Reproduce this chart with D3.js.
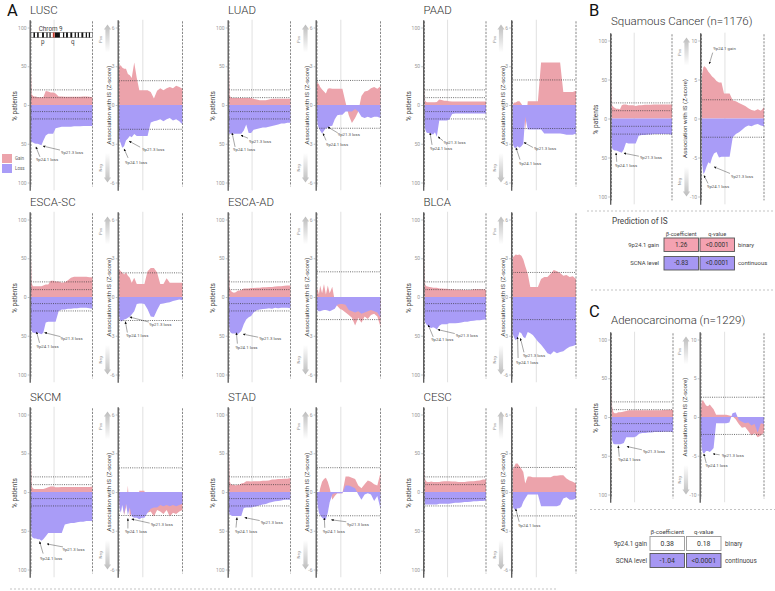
<!DOCTYPE html>
<html><head><meta charset="utf-8">
<script src="https://cdn.jsdelivr.net/npm/d3@7/dist/d3.min.js"></script>
<style>
body{margin:0;background:#fff}
svg{display:block}
text{font-family:Roboto,"Liberation Sans",Arial,sans-serif}
</style></head><body>
<svg id="chart" width="775" height="591"></svg>
<script>
// ================= DATA =================
// positions along chromosome 9 (0 = pter, 100 = qter), centromere ~37.5
const pos = [0,1,3,5,8,11,14,17,20,24,28,32,36,40,45,50,55,60,65,70,75,80,85,90,95,100];
const centromere = 37.5;
const pctTicks = [100,50,0,-50,-100];
const zTicksA = [6,3,0,-3,-6];
const zTicksBC = [10,5,0,-5,-10];

// LUSC
const luscGainPct = [46,14,12,11,11,10,10,10,10,18,17.5,16,16,15,11,11,10.5,10.5,10.5,10.5,10.5,10.5,11,11,10.5,10];
const luscLossPct = [46,48,48,49.5,50,50,51,52,46,39.5,37,37,37,30,29,28,28,28,28,27.5,27.5,27.5,27,27,27,27];
const luscGainZ = [3.05,3.05,3.05,2.9,2.8,2.8,2.4,2.3,2.1,3.3,2.1,1.15,1.15,1.15,1.15,1.0,0.5,1.1,1.3,1.15,1.3,1.4,1.3,1.5,1.4,1.25];
const luscLossZ = [-2.6,-2.75,-3.0,-3.3,-3.2,-2.75,-2.6,-2.4,-2.5,-2.25,-2.4,-2.4,-2.4,-2.4,-2.4,-1.35,-1.25,-1.2,-1.1,-1.25,-1.1,-1.0,-1.2,-1.1,-1.25,-1.5];
// LUAD
const luadGainPct = [48,12,10,9,9,9,9,9,9,9,9,9,9,8,7,6,6,6,7,8,8,8,8,8,8,8];
const luadLossPct = [36,37,37,37,37,37,37,37,37,33,25,36,36,32,31,30,29,29,28,27,26,25,24,24,23,23];
const luadGainZ = [1.8,1.7,1.6,1.4,1.2,1.05,0.9,1.25,1.3,1.25,1.25,1.25,1.25,1.25,0.2,-0.8,-1.4,-1.0,-0.5,0.7,1.05,1.1,1.3,1.4,1.25,1.45];
const luadLossZ = [-1.0,-1.5,-1.8,-2.0,-2.2,-2.0,-1.8,-1.75,-1.65,-1.6,-1.1,-0.8,-0.75,-0.75,-0.5,-0.5,-0.5,-0.3,-0.5,-0.9,-1.0,-0.9,-1.0,-0.9,-0.9,-1.0];
// PAAD
const paadGainPct = [23,5.5,4,3.5,3.5,3.5,3.5,3.7,4,7,6.5,5.5,5.5,5,4.5,4.5,4.5,4.5,4.5,4.5,4.5,4.5,4.5,4.5,4.5,4.5];
const paadLossPct = [22,31,35,36,36,37,38,35,41,20,20,20,20,19,11.5,11,11,11,11,11,11,11,11,11,11,11];
const paadGainZ = [-0.8,0.1,0.2,0.2,0.3,0.3,0.1,-0.2,-2.0,0.3,0.3,0.3,0.3,0.3,3.3,3.3,3.3,3.3,3.3,3.3,3.3,1.0,1.0,1.0,1.0,1.1];
const paadLossZ = [-2.5,-3.1,-3.3,-3.3,-3.2,-3.3,-3.2,-3.0,-0.9,-1.9,-1.9,-1.9,-1.9,-1.9,-1.9,-2.2,-2.2,-2.2,-2.2,-2.2,-2.2,-2.25,-2.3,-2.3,-2.3,-2.2];
// ESCA-SC
const escaScGainPct = [51,18,14,14,14,14,14,14,15,16,16,21,21,20,20,18.5,19,21.5,25,26,26,26,26,26,25.5,25.5];
const escaScLossPct = [40,44,46,46,47,46,47,48,46,33,32,32,32,32,18,16,16,15,15,14.5,14.5,14,14,14,14.5,15];
const escaScGainZ = [2.15,2.1,2.0,1.9,1.75,1.9,1.65,1.5,1.1,1.5,1.0,1.0,1.0,1.0,2.0,2.25,2.25,1.9,1.0,1.0,1.45,1.1,1.1,1.1,1.1,1.1];
const escaScLossZ = [-1.35,-1.75,-1.9,-1.85,-1.75,-1.7,-1.6,-1.5,-1.35,-1.1,-0.55,-0.5,-0.5,-0.55,-0.95,-1.5,-1.55,-1.0,-0.55,-0.5,-0.45,-0.4,-0.3,-0.25,-0.2,-0.25];
// ESCA-AD
const escaAdGainPct = [38,12,8,6.5,5.5,6,8,8.5,9,11,11,11,11.5,11.5,12,12,12.5,12.5,13,13,13.5,14,14,14.5,15,15];
const escaAdLossPct = [35,44,46,47,47,47,48,46,44,35,29,26,24.5,20,17,16,15.5,15,14.6,15,14,14.6,14,14,14,14.6];
const escaAdGainZ = [0.6,0.6,0.2,0.9,0.3,1.0,0.2,0.9,0.3,0.8,-0.3,-0.7,-0.9,-1.0,-1.2,-1.4,-1.6,-2.2,-1.6,-2.0,-1.5,-1.7,-1.4,-1.3,-1.5,-2.3];
const escaAdLossZ = [-1.0,-1.05,-1.1,-1.1,-1.05,-1.0,-1.0,-1.05,-1.1,-1.0,-0.9,-0.6,-0.55,-0.55,-0.6,-1.0,-1.1,-1.2,-1.1,-1.3,-1.2,-1.1,-1.0,-1.1,-1.2,-1.6];
// BLCA
const blcaGainPct = [51,16,14,13.5,13,12.5,12,12,12,11,11,10.5,10.5,10,10,9.5,9.5,9.5,9,9,9,10,10,10,10,9.5];
const blcaLossPct = [29,33,35,37,39,40,39,40,42,37,35,35,35,34,34,34,33.5,33,32,32,31,30.5,30,30,29.5,29];
const blcaGainZ = [3.1,3.1,3.2,3.3,3.25,3.3,3.2,2.9,2.4,1.8,0.77,0.77,0.77,0.77,1.4,1.55,1.55,1.8,2.1,2.0,1.85,1.65,1.7,1.55,1.6,1.4];
const blcaLossZ = [-2.7,-2.95,-3.2,-3.35,-3.2,-2.7,-2.8,-3.1,-3.2,-2.7,-2.8,-2.95,-3.2,-3.45,-3.7,-4.0,-4.35,-4.45,-4.2,-4.35,-4.25,-4.2,-4.0,-3.85,-3.8,-3.7];
// SKCM
const skcmGainPct = [39,7,5,4,4,4,4,4,4,5,6,7,7,6,6,6.5,6.5,6.5,6.5,6.5,6.5,6.5,6.5,6.5,6.5,7];
const skcmLossPct = [42,57,59,60,60,61,61,63,61,57,53,53,53,53,53,53,42,41,40,40,39,38.5,38.5,37.5,37.5,37.5];
const skcmGainZ = [0.2,-1.0,-1.5,-0.5,-1.8,-1.2,0.5,-2.0,-1.5,-1.8,-1.6,0.1,0.1,0.1,-1.6,-1.5,-1.9,-1.4,-1.5,-1.7,-1.4,-1.9,-1.6,-1.7,-1.5,-1.4];
const skcmLossZ = [-0.2,-1.3,-1.6,-1.0,-1.7,-0.9,-1.8,-1.2,-1.9,-2.0,-2.0,-2.1,-2.0,-2.0,-1.6,-1.3,-1.2,-1.2,-1.0,-1.1,-1.0,-1.1,-1.0,-1.1,-1.0,-0.9];
// STAD
const stadGainPct = [52,14,10,9.5,9.5,8.5,9.5,9.5,11,11.5,14,14,13.5,14,14,14,14.5,14.5,15,16,16,16.7,16.7,17,17,18];
const stadLossPct = [25,29,30,31,31,31,31,31,31,20.5,20,20,20,19,18.5,17,16,15.5,14,13,12,11.5,11,10,10,10];
const stadGainZ = [-0.7,-0.3,-0.2,0.3,0.8,1.0,1.1,0.8,0.3,-0.6,-0.3,-0.1,-0.1,-0.1,1.2,1.2,1.1,1.0,0.5,0.3,0.6,0.9,0.8,0.6,0.5,1.5];
const stadLossZ = [-0.5,-1.0,-1.6,-1.8,-2.0,-2.1,-2.1,-1.6,-0.8,-0.2,-0.1,-0.1,-0.1,-0.1,0.5,0.5,0.4,0.3,-0.2,-0.6,-0.2,-0.1,-0.2,-0.7,-0.3,-1.3];
// CESC
const cescGainPct = [33,16,13.5,13,13,13.5,13,13,13,13,13.5,14,14,14,13.5,13.5,13,13,13,13.5,14,14,14.5,15,16,16];
const cescLossPct = [12,16,16,16,16,16,16,16,16,15,15,15,15,15,14.5,14,14,13.5,13,13,12.5,12,12,11.5,11.5,11];
const cescGainZ = [1.7,1.8,2.0,2.2,2.2,2.0,1.8,1.55,0.65,1.2,1.2,1.15,1.15,1.15,1.15,1.15,1.15,1.15,1.25,1.25,1.3,1.3,1.05,0.9,0.8,0.65];
const cescLossZ = [-0.9,-1.2,-1.35,-1.35,-1.25,-1.25,-1.15,-0.75,-0.5,-0.2,-0.2,-0.2,-0.2,-0.2,-1.1,-1.1,-1.1,-1.1,-1.1,-1.1,-1.0,-0.5,-0.4,-0.6,-0.6,-0.5];
// Squamous (B)
const sqGainPct = [50,17,15,13.7,12.5,12.5,12,17,18,18,17,17,17,16,17,17,17.5,17.5,17.5,18,18,18,18,18,18,18];
const sqLossPct = [27,38,40,41,41,42,43,44,40,31,32,32,32,32,22,21,21,20.5,20.5,20,20,20,20,20,20,21];
const sqGainZ = [3.6,5.7,6.6,6.7,6.4,6.0,5.7,5.4,5.2,4.8,4.6,4.6,3.2,3.2,3.2,2.3,2.2,2.0,1.8,1.6,1.3,1.1,1.0,1.2,1.0,1.45];
const sqLossZ = [-1.5,-5.8,-7.1,-6.9,-6.2,-5.6,-5.8,-5.0,-4.5,-4.3,-5.0,-4.9,-4.9,-4.9,-4.9,-2.4,-2.0,-1.75,-1.45,-1.1,-0.9,-1.0,-0.8,-0.7,-0.9,-1.0];
// Adenocarcinoma (C)
const adGainPct = [43,13,6.5,5,5,6,6,6.5,7,7.8,8.6,8.6,8.6,8.6,8.6,8.6,8.6,8.6,8.6,8.6,8.6,8.6,9,9,9.5,9.5];
const adLossPct = [17,30,34.5,35,35,35,35,34.5,33.6,26,26,26,26,25,21.5,20.7,20.7,20,20,19.4,19.4,19.4,19,19,19,19.4];
const adGainZ = [1.0,2.0,2.2,1.9,1.5,1.4,1.6,1.3,1.0,0.3,0.3,0.3,0.3,0.3,0.2,0.1,-0.3,-0.9,-1.4,-1.3,-1.8,-2.4,-2.1,-2.6,-2.4,-2.0];
const adLossZ = [-2.0,-4.0,-4.6,-4.7,-4.4,-4.4,-4.5,-4.3,-4.0,-0.8,-0.8,-0.8,-0.8,-0.8,-0.7,0.5,0.6,-0.4,-0.6,-0.8,-0.7,-1.1,-0.9,-2.0,-0.8,-0.9];

// chromosome 9 ideogram dark bands (positions)
const chr9Dark = [[4,6.5],[10,12.5],[18,21],[25,27],[30,32],[39,47],[52,54],[57,60],[64,67],[71,73],[76,78],[82,85],[89,91],[94,96]];
const chr9Cen = [35.5,38.5];

// prediction tables
const predRows = ["9p24.1 gain","SCNA level"];
const predTypes = ["binary","continuous"];
const sqBeta = ["1.26","-0.83"], sqQ = ["<0.0001","<0.0001"];
const adBeta = ["0.38","-1.04"], adQ = ["0.18","<0.0001"];

// ================= STYLE / LAYOUT =================
const GAIN = "#eca3ab", LOSS = "#a99cf7";
const BOX_PINK = "#f4a2b1", BOX_PURPLE = "#a697f3";

const note = (sub,label,p,v,ax,ay,tx,ty)=>({sub,label,p,v,ax,ay,tx,ty});
const L24 = "9p24.1 loss", L21 = "9p21.3 loss";

const panelsA = [
 {name:"LUSC",col:0,row:0,gp:luscGainPct,lp:luscLossPct,gz:luscGainZ,lz:luscLossZ,zThr:[1.88,-1.88],
  notes:[note("pct",L24,8,-54,4,10,0,14),note("pct",L21,19.5,-53,17,4,18,8),note("z",L24,8,-3.4,4,9,1,15),note("z",L21,16,-2.8,11,6,13,10)]},
 {name:"LUAD",col:1,row:0,gp:luadGainPct,lp:luadLossPct,gz:luadGainZ,lz:luadLossZ,zThr:[1.9,-1.8],
  notes:[note("pct",L24,5,-36,3,14,1,18),note("pct",L21,19.5,-39,7,3,8,8),note("z",L24,9.5,-2.2,3,7,3,12.5),note("z",L21,17,-1.7,10,6,10,9)]},
 {name:"PAAD",col:2,row:0,gp:paadGainPct,lp:paadLossPct,gz:paadGainZ,lz:paadLossZ,zThr:[1.94,-1.82],
  notes:[note("pct",L24,9,-36,2,12,0,17),note("pct",L21,22,-41,5,4,5.5,7),note("z",L24,5.5,-3.3,4,12,3,17),note("z",L21,18,-2.9,9,5,10,8)]},
 {name:"ESCA-SC",col:0,row:1,gp:escaScGainPct,lp:escaScLossPct,gz:escaScGainZ,lz:escaScLossZ,zThr:[1.87,-1.82],
  notes:[note("pct",L24,9,-45,3,11,0,16),note("pct",L21,22,-46,16,4,16,7.5),note("z",L24,10,-1.9,2,11,1,15),note("z",L21,17,-1.55,19,5,19.5,9)]},
 {name:"ESCA-AD",col:1,row:1,gp:escaAdGainPct,lp:escaAdLossPct,gz:escaAdGainZ,lz:escaAdLossZ,zThr:[1.95,-1.75],
  notes:[note("pct",L24,12,-46,1,11,-1,16),note("pct",L21,23,-48,15,3,16,6)]},
 {name:"BLCA",col:2,row:1,gp:blcaGainPct,lp:blcaLossPct,gz:blcaGainZ,lz:blcaLossZ,zThr:[1.9,-1.75],
  notes:[note("pct",L24,6,-36,5,12,3,16),note("pct",L21,21.5,-42,17,4,18,7),note("z",L21,12.5,-3.2,3.5,14,2.5,19),note("z",L24,8,-3.1,0.5,21,-1.5,27)]},
 {name:"SKCM",col:0,row:2,gp:skcmGainPct,lp:skcmLossPct,gz:skcmGainZ,lz:skcmLossZ,zThr:[1.87,-1.82],
  notes:[note("pct",L24,14,-64,3.5,12,0.5,18),note("pct",L21,26,-67,16,3,15.5,7),note("z",L24,14,-2.05,0,10,-3,15),note("z",L21,20,-2.1,18,4,19,7)]},
 {name:"STAD",col:1,row:2,gp:stadGainPct,lp:stadLossPct,gz:stadGainZ,lz:stadLossZ,zThr:[1.88,-1.84],
  notes:[note("pct",L24,13,-33,-1,10,-2,15),note("pct",L21,25.5,-33,15,3,16,6.5),note("z",L24,11.5,-2.0,0.5,10,-1.5,15.5),note("z",L21,22.5,-2.15,15,2,15.5,6)]},
 {name:"CESC",col:2,row:2,gp:cescGainPct,lp:cescLossPct,gz:cescGainZ,lz:cescLossZ,zThr:[1.9,-1.85],
  notes:[note("z",L24,5,-1.3,3.5,13,2.5,18)]}
];
const panelB = {title:"Squamous Cancer (n=1176)",gp:sqGainPct,lp:sqLossPct,gz:sqGainZ,lz:sqLossZ,zThr:[2.4,-2.4],
  notes:[note("pct",L24,7.5,-44,0.7,9,-1,14),note("pct",L21,20.5,-44.5,15,3,16,6),note("z","9p24.1 gain",12.5,7.0,3.4,-11.3,4,-13.5),
         note("z",L24,4,-7.3,4,8,3,13),note("z",L21,20,-6.2,16,6.6,17,11)]};
const panelC = {title:"Adenocarcinoma (n=1229)",gp:adGainPct,lp:adLossPct,gz:adGainZ,lz:adLossZ,zThr:[2.55,-2.25],
  notes:[note("pct",L24,11,-37,1,11,0,15),note("pct",L21,25,-38,15,3.3,16,6.3),note("z",L24,4.5,-4.75,2.4,9.3,1.7,13.5),note("z",L21,19,-4.75,6.7,1,8.7,3.5)]};

const colOff = [0,198,393.5];
const rowOff = [0,192,387];

// ================= DRAW =================
const svg = d3.select("#chart");
const defs = svg.append("defs");
const gPos = defs.append("linearGradient").attr("id","gPos").attr("x1",0).attr("y1",0).attr("x2",0).attr("y2",1);
gPos.append("stop").attr("offset",0).attr("stop-color","#bcbcbc");
gPos.append("stop").attr("offset",1).attr("stop-color","#ffffff");
const gNeg = defs.append("linearGradient").attr("id","gNeg").attr("x1",0).attr("y1",0).attr("x2",0).attr("y2",1);
gNeg.append("stop").attr("offset",0).attr("stop-color","#ffffff");
gNeg.append("stop").attr("offset",1).attr("stop-color","#bcbcbc");
defs.append("marker").attr("id","ah").attr("viewBox","0 0 10 10").attr("refX",9).attr("refY",5)
  .attr("markerUnits","userSpaceOnUse").attr("markerWidth",2.6).attr("markerHeight",2.6).attr("orient","auto")
  .append("path").attr("d","M0,0.5 L10,5 L0,9.5 Z").attr("fill","#111");

function subPanel(c){
  const g = svg.append("g");
  const x = d3.scaleLinear().domain([0,100]).range([c.x0, c.x0 + c.w]);
  const y = d3.scaleLinear().domain([-c.max, c.max]).range([c.yc + c.half, c.yc - c.half]);
  g.append("line").attr("x1",x(centromere)).attr("x2",x(centromere))
    .attr("y1",y(c.max*1.1)).attr("y2",y(-c.max*1.1)).attr("stroke","#d4d4d4").attr("stroke-width",0.7);
  const area = d3.area().x(d=>x(d[0])).y0(y(0)).y1(d=>y(d[1]));
  g.append("path").attr("d",area(pos.map((p,i)=>[p,c.gain[i]]))).attr("fill",GAIN);
  g.append("path").attr("d",area(pos.map((p,i)=>[p,c.loss[i]]))).attr("fill",LOSS);
  c.thr.forEach(t=>g.append("line").attr("x1",x(0)).attr("x2",x(100)).attr("y1",y(t)).attr("y2",y(t))
    .attr("stroke","#333").attr("stroke-width",0.7).attr("stroke-dasharray","1,1.2"));
  [0,100].forEach(p=>g.append("line").attr("x1",x(p)).attr("x2",x(p))
    .attr("y1",y(c.max*1.08)).attr("y2",y(-c.max*1.05)).attr("stroke","#555").attr("stroke-width",0.7).attr("stroke-dasharray","2.2,1.3"));
  const ya = d3.scaleLinear().domain([-c.max*1.1, c.max*1.1]).range([y(-c.max*1.1), y(c.max*1.1)]);
  const axg = g.append("g").attr("transform",`translate(${c.x0-1.3},0)`)
    .call(d3.axisLeft(ya).tickValues(c.ticks).tickFormat(c.fmt).tickSize(2).tickSizeOuter(0).tickPadding(1.2));
  axg.select(".domain").attr("stroke","#555").attr("stroke-width",1.3);
  axg.selectAll(".tick line").attr("stroke","#888").attr("stroke-width",0.5);
  axg.selectAll(".tick text").attr("fill","#999").attr("font-size",5).attr("font-family","Roboto");
  c.notes.forEach(a=>{
    const px = x(a.p), py = y(a.v);
    g.append("line").attr("x1",px+a.ax).attr("y1",py+a.ay).attr("x2",px).attr("y2",py)
      .attr("stroke","#222").attr("stroke-width",0.4).attr("marker-end","url(#ah)");
    g.append("text").attr("x",px+a.tx).attr("y",py+a.ty).attr("font-size",4.3).attr("fill","#555").text(a.label);
  });
  return {x,y};
}

function dirArrow(cx, yTip, yTail, up){
  const s = up ? 1 : -1, hh = 5, hw = 3.6, bw = 2.1;
  const d = `M${cx},${yTip} L${cx+hw},${yTip+s*hh} L${cx+bw},${yTip+s*hh} L${cx+bw},${yTail} L${cx-bw},${yTail} L${cx-bw},${yTip+s*hh} L${cx-hw},${yTip+s*hh} Z`;
  svg.append("path").attr("d",d).attr("fill",up?"url(#gPos)":"url(#gNeg)");
}
function rotText(x,y,txt,size,fill){
  svg.append("text").attr("transform",`translate(${x},${y}) rotate(-90)`).attr("text-anchor","middle")
    .attr("font-size",size).attr("fill",fill).text(txt);
}

function drawPanel(P, G){
  const sp = subPanel({x0:G.pctX0,w:G.pctW,yc:G.yc,half:G.half,max:100,gain:P.gp,loss:P.lp.map(v=>-v),
    thr:G.pctThr,ticks:pctTicks,fmt:d=>Math.abs(d),notes:P.notes.filter(n=>n.sub==="pct")});
  const sz = subPanel({x0:G.zX0,w:G.zW,yc:G.yc,half:G.half,max:G.zMax,gain:P.gz,loss:P.lz,
    thr:P.zThr,ticks:G.zTicks,fmt:d=>String(d),notes:P.notes.filter(n=>n.sub==="z")});
  rotText(G.pctX0-14,G.yc+1,"% patients",6.5,"#444");
  rotText(G.zX0-G.labOff,G.yc,"Association with IS (Z-score)",6.2,"#444");
  const ay = sz.y;
  const ax = G.zX0 - G.arrOff;
  dirArrow(ax, ay(G.zMax*1.04), ay(G.zMax*0.68), true);
  dirArrow(ax, ay(-G.zMax*1.0), ay(-G.zMax*0.62), false);
  rotText(ax-5.5, (ay(G.zMax*1.04)+ay(G.zMax*0.68))/2+1, "Pos", 4, "#888");
  rotText(ax-5.5, (ay(-G.zMax)+ay(-G.zMax*0.62))/2, "Neg", 4, "#888");
  return sp;
}

// ---- Panel A grid ----
panelsA.forEach(P=>{
  const ox = colOff[P.col], oy = rowOff[P.row];
  const G = {pctX0:31+ox,pctW:61.5,zX0:119+ox,zW:63.5,yc:105+oy,half:77.5,zMax:6,zTicks:zTicksA,
             pctThr:[19.5,9.5,-8.5,-18],labOff:8,arrOff:11.5};
  const sp = drawPanel(P,G);
  svg.append("text").attr("x",G.pctX0-1).attr("y",13.5+oy).attr("font-size",11.5).attr("font-weight",300)
    .attr("fill","#333").text(P.name);
  if(P.name==="LUSC"){
    const x = sp.x, yI = 32.5, hI = 5;
    svg.append("rect").attr("x",x(0)).attr("y",yI).attr("width",x(100)-x(0)).attr("height",hI)
      .attr("fill","#fff").attr("stroke","#444").attr("stroke-width",0.5);
    chr9Dark.forEach(b=>svg.append("rect").attr("x",x(b[0])).attr("y",yI).attr("width",x(b[1])-x(b[0])).attr("height",hI).attr("fill","#111"));
    svg.append("rect").attr("x",x(chr9Cen[0])).attr("y",yI).attr("width",x(chr9Cen[1])-x(chr9Cen[0])).attr("height",hI).attr("fill","#c0392b");
    svg.append("text").attr("x",x(32)).attr("y",30.5).attr("text-anchor","middle").attr("font-size",6.3).attr("fill","#444").text("Chrom 9");
    svg.append("text").attr("x",x(19)).attr("y",44).attr("text-anchor","middle").attr("font-size",6.3).attr("fill","#444").text("p");
    svg.append("text").attr("x",x(68)).attr("y",44).attr("text-anchor","middle").attr("font-size",6.3).attr("fill","#444").text("q");
    // legend
    [["Gain",GAIN,154],["Loss",LOSS,164]].forEach(l=>{
      svg.append("rect").attr("x",2).attr("y",l[2]).attr("width",10).attr("height",9).attr("fill",l[1]);
      svg.append("text").attr("x",15).attr("y",l[2]+6).attr("font-size",4.5).attr("fill","#666").text(l[0]);
    });
  }
});

// ---- Panels B and C ----
const GB = {pctX0:611.5,pctW:60.5,zX0:701.5,zW:62.5,yc:118.5,half:78,zMax:10,zTicks:zTicksBC,pctThr:[20,10,-10,-20],labOff:14.5,arrOff:15};
const GC = {pctX0:611.5,pctW:61.5,zX0:701,zW:63,yc:417,half:77.5,zMax:10,zTicks:zTicksBC,pctThr:[19.5,9.5,-8.5,-18.5],labOff:14.5,arrOff:15};
drawPanel(panelB,GB);
drawPanel(panelC,GC);
svg.append("text").attr("x",611).attr("y",25).attr("font-size",11.5).attr("font-weight",300).attr("fill","#333").text(panelB.title);
svg.append("text").attr("x",611).attr("y",324).attr("font-size",11.5).attr("font-weight",300).attr("fill","#333").text(panelC.title);

// panel letters
[["A",7,15.5],["B",589,15.5],["C",589,317]].forEach(l=>svg.append("text").attr("x",l[1]).attr("y",l[2])
  .attr("font-size",16.5).attr("font-family","'Liberation Sans',Arial,sans-serif").attr("fill","#111").text(l[0]));

// separators
function hdash(x1,x2,y){svg.append("line").attr("x1",x1).attr("x2",x2).attr("y1",y).attr("y2",y)
  .attr("stroke","#aaa").attr("stroke-width",0.7).attr("stroke-dasharray","2,2");}
hdash(587,775,211); hdash(591,775,290); hdash(590,775,509.5); hdash(10,557,589);

// prediction tables
function table(T){
  if(T.title) svg.append("text").attr("x",T.titleX).attr("y",T.titleY).attr("font-size",8.2).attr("fill","#444").text(T.title);
  svg.append("text").attr("x",T.bx[0]+T.bw/2).attr("y",T.hy).attr("text-anchor","middle").attr("font-size",T.fs*0.95).attr("fill","#444").text("β-coefficient");
  svg.append("text").attr("x",T.bx[1]+T.bw/2).attr("y",T.hy).attr("text-anchor","middle").attr("font-size",T.fs*0.95).attr("fill","#444").text("q-value");
  predRows.forEach((r,i)=>{
    const top = T.rowTop[i];
    svg.append("text").attr("x",T.labX).attr("y",top+T.bh/2+T.fs*0.35).attr("text-anchor","end").attr("font-size",T.fs).attr("fill","#444").text(r);
    [T.beta[i],T.q[i]].forEach((v,j)=>{
      svg.append("rect").attr("x",T.bx[j]).attr("y",top).attr("width",T.bw).attr("height",T.bh)
        .attr("fill",T.fills[i]).attr("stroke",T.strokes[i]).attr("stroke-width",0.9);
      svg.append("text").attr("x",T.bx[j]+T.bw/2).attr("y",top+T.bh/2+T.fs*0.38).attr("text-anchor","middle")
        .attr("font-size",T.fs*1.08).attr("fill","#333").text(v);
    });
    svg.append("text").attr("x",T.typeX).attr("y",top+T.bh/2+T.fs*0.35).attr("font-size",T.fs).attr("fill","#444").text(predTypes[i]);
  });
}
table({title:"Prediction of IS",titleX:612,titleY:224,hy:235.5,bx:[664,700],bw:34.5,bh:13.5,rowTop:[238,256.5],
  labX:659,typeX:738,fs:5.9,beta:sqBeta,q:sqQ,fills:[BOX_PINK,BOX_PURPLE],strokes:["#555","#555"]});
table({title:null,hy:533.5,bx:[650,686.5],bw:34.5,bh:14,rowTop:[536.5,553.5],
  labX:647,typeX:725,fs:6.4,beta:adBeta,q:adQ,fills:["#ffffff",BOX_PURPLE],strokes:["#999","#555"]});
</script>
</body></html>
